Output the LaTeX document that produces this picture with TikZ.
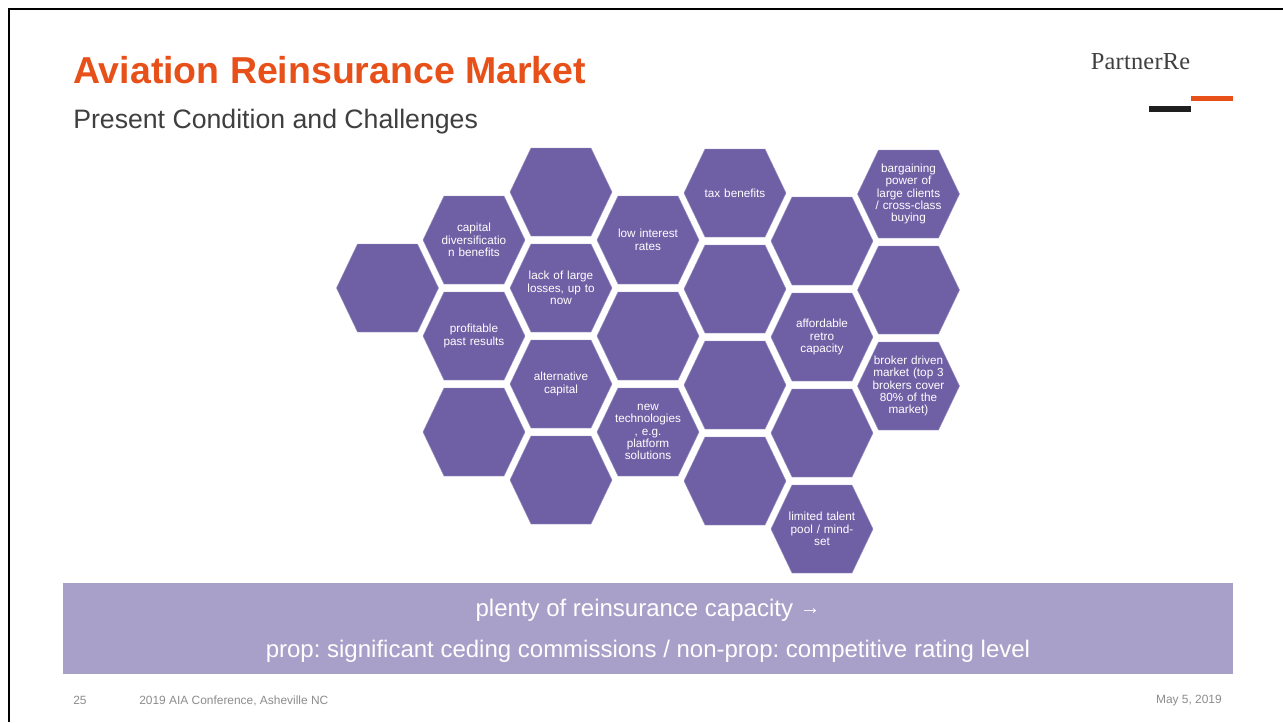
\documentclass[tikz,border=0pt]{standalone}
\usepackage{fontspec}
\setmainfont{Liberation Sans}
\newfontfamily\logofont[LetterSpace=1]{Liberation Serif}
\definecolor{hexfill}{HTML}{6F60A5}
\definecolor{barfill}{HTML}{A8A0C8}
\definecolor{titleorange}{HTML}{E8501A}
\definecolor{subgray}{HTML}{3F3F3F}
\definecolor{footgray}{HTML}{8C8C8C}
\frenchspacing
\tikzset{
  hextext/.style={text=white,align=center,font=\fontsize{8.8pt}{9.3pt}\selectfont,inner sep=0pt,text width=60pt},
  bartext/.style={text=white,font=\fontsize{18pt}{20pt}\selectfont,inner sep=0pt},
  foottext/.style={text=footgray,font=\fontsize{8.95pt}{10pt}\selectfont,inner sep=0pt}
}
\newcommand{\hexa}[4]{%
  \fill[hexfill,draw=hexfill!70!white,line width=0.3pt] (#2-51,#3) -- (#2-30,#3-44) -- (#2+30,#3-44) -- (#2+51,#3) -- (#2+30,#3+44) -- (#2-30,#3+44) -- cycle;
  \node[hextext] (#1) at (#2,#3) {#4};
}
\begin{document}
\begin{tikzpicture}[x=0.75pt,y=-0.75pt]
\useasboundingbox (0,0) rectangle (1283,722);
\fill[white] (0,0) rectangle (1283,722);
\coordinate (ftl) at (9,9);
\coordinate (ftr) at (1283,9);
\coordinate (fbl) at (9,722);
\draw[black,line width=2pt] (ftr) -- (ftl) -- (fbl);
\node[anchor=base west,inner sep=0pt,text=titleorange,font=\fontsize{28.1pt}{30pt}\selectfont\bfseries] (title) at (73,83) {Aviation Reinsurance Market};
\node[anchor=base west,inner sep=0pt,text=subgray,font=\fontsize{20pt}{22pt}\selectfont] (sub) at (73,128) {Present Condition and Challenges};
\node[anchor=base,inner sep=0pt,text=subgray,font=\logofont\fontsize{18.3pt}{20pt}\selectfont] (logo) at (1140.5,69) {PartnerRe};
\fill[titleorange] (1191,95.5) rectangle (1233,101);
\fill[black!88] (1149,106) rectangle (1191,111.5);
\hexa{h1}{387.5}{288}{}
\hexa{h2}{474}{240}{capital\\diversificatio\\n benefits}
\hexa{h3}{474}{336}{profitable\\past results}
\hexa{h4}{474}{432}{}
\hexa{h5}{561}{192}{}
\hexa{h6}{561}{288}{lack of large\\losses, up to\\now}
\hexa{h7}{561}{384}{alternative\\capital}
\hexa{h8}{561}{480}{}
\hexa{h9}{648}{240}{low interest\\rates}
\hexa{h10}{648}{336}{}
\hexa{h11}{648}{432}{new\\technologies\\, e.g.\\platform\\solutions}
\hexa{h12}{735}{193}{tax benefits}
\hexa{h13}{735}{289}{}
\hexa{h14}{735}{385}{}
\hexa{h15}{735}{481}{}
\hexa{h16}{822}{241}{}
\hexa{h17}{822}{337}{affordable\\retro\\capacity}
\hexa{h18}{822}{433}{}
\hexa{h19}{822}{529}{limited talent\\pool / mind-\\set}
\hexa{h20}{908.5}{194}{bargaining\\power of\\large clients\\/ cross-class\\buying}
\hexa{h21}{908.5}{290}{}
\hexa{h22}{908.5}{386}{broker driven\\market (top 3\\brokers cover\\80\% of the\\market)}
\fill[barfill] (63,583) rectangle (1233,674);
\node[bartext] (b1) at (648,610) {plenty of reinsurance capacity \raisebox{1.6pt}{\fontsize{15.5pt}{16pt}\selectfont →}};
\node[bartext] (b2) at (648,651) {prop: significant ceding commissions / non-prop: competitive rating level};
\node[foottext,anchor=base west] (f1) at (73,704) {25};
\node[foottext,anchor=base west] (f2) at (139,704) {2019 AIA Conference, Asheville NC};
\node[foottext,anchor=base east] (f3) at (1222,703) {May 5, 2019};
\end{tikzpicture}
\end{document}
